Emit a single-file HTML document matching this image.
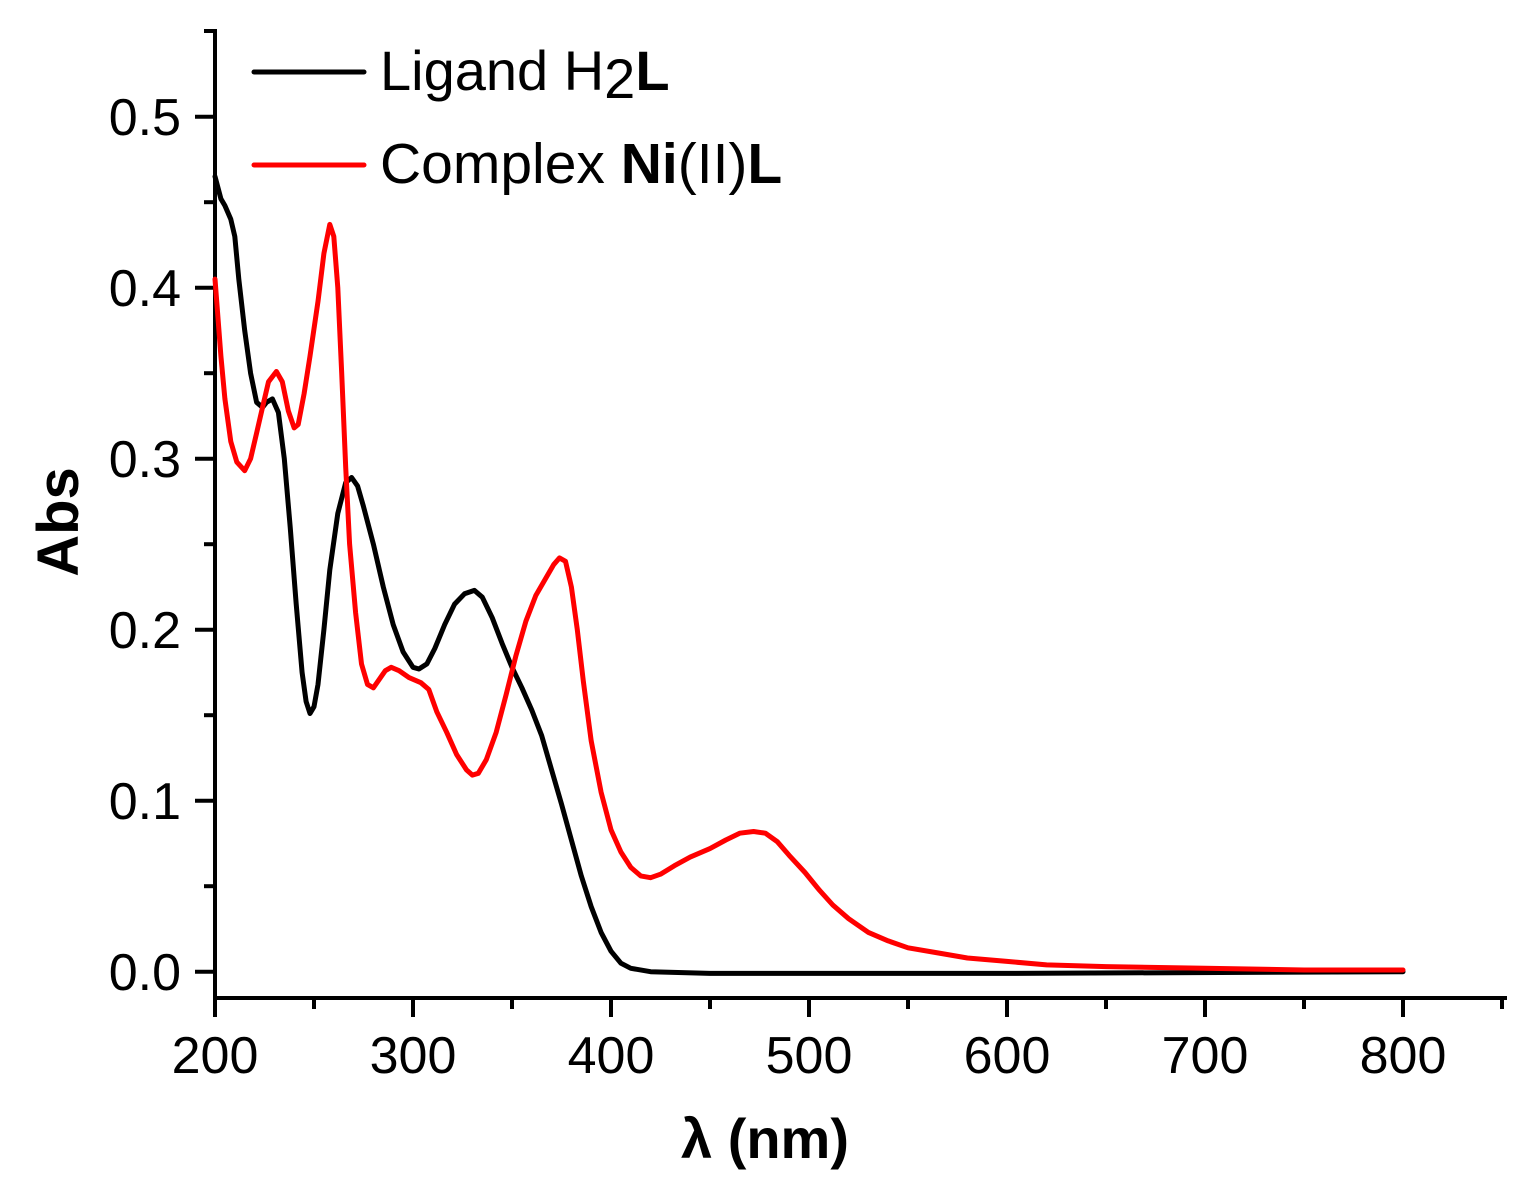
<!DOCTYPE html>
<html><head><style>body{margin:0;background:#fff}svg{display:block}text{font-family:"Liberation Sans",Arial,sans-serif;fill:#000}</style></head>
<body>
<svg id="s" width="1519" height="1199" viewBox="0 0 1519 1199" xmlns="http://www.w3.org/2000/svg">
<g stroke="#000" stroke-width="4" fill="none">
<line x1="215" y1="29" x2="215" y2="1000"/>
<line x1="213" y1="998" x2="1507" y2="998"/>
<line x1="195" y1="116.7" x2="215" y2="116.7"/>
<line x1="195" y1="287.7" x2="215" y2="287.7"/>
<line x1="195" y1="458.7" x2="215" y2="458.7"/>
<line x1="195" y1="629.7" x2="215" y2="629.7"/>
<line x1="195" y1="800.7" x2="215" y2="800.7"/>
<line x1="195" y1="971.7" x2="215" y2="971.7"/>
<line x1="204" y1="31" x2="215" y2="31"/>
<line x1="204" y1="202.2" x2="215" y2="202.2"/>
<line x1="204" y1="373.2" x2="215" y2="373.2"/>
<line x1="204" y1="544.2" x2="215" y2="544.2"/>
<line x1="204" y1="715.2" x2="215" y2="715.2"/>
<line x1="204" y1="886.2" x2="215" y2="886.2"/>
<line x1="215" y1="998" x2="215" y2="1017"/>
<line x1="413" y1="998" x2="413" y2="1017"/>
<line x1="611" y1="998" x2="611" y2="1017"/>
<line x1="809" y1="998" x2="809" y2="1017"/>
<line x1="1007" y1="998" x2="1007" y2="1017"/>
<line x1="1205" y1="998" x2="1205" y2="1017"/>
<line x1="1403" y1="998" x2="1403" y2="1017"/>
<line x1="314" y1="998" x2="314" y2="1009"/>
<line x1="512" y1="998" x2="512" y2="1009"/>
<line x1="710" y1="998" x2="710" y2="1009"/>
<line x1="908" y1="998" x2="908" y2="1009"/>
<line x1="1106" y1="998" x2="1106" y2="1009"/>
<line x1="1304" y1="998" x2="1304" y2="1009"/>
<line x1="1502" y1="998" x2="1502" y2="1009"/>
</g>
<g font-size="52" text-anchor="end">
<text x="181" y="135">0.5</text>
<text x="181" y="306">0.4</text>
<text x="181" y="477">0.3</text>
<text x="181" y="648">0.2</text>
<text x="181" y="819">0.1</text>
<text x="181" y="990">0.0</text>
</g>
<g font-size="52" text-anchor="middle">
<text x="215" y="1073">200</text>
<text x="413" y="1073">300</text>
<text x="611" y="1073">400</text>
<text x="809" y="1073">500</text>
<text x="1007" y="1073">600</text>
<text x="1205" y="1073">700</text>
<text x="1403" y="1073">800</text>
</g>
<text x="765" y="1158" font-size="56" font-weight="bold" text-anchor="middle">λ (nm)</text>
<text transform="translate(78,522) rotate(-90)" font-size="58" font-weight="bold" text-anchor="middle">Abs</text>
<g id="data" transform="translate(215,971.7) scale(1.98,-1710)" fill="none" stroke-linejoin="round" stroke-linecap="round">
<polyline vector-effect="non-scaling-stroke" stroke-width="5" stroke="#000" points="0,0.465 3,0.452 5,0.448 8,0.44 10,0.43 12,0.405 15,0.375 18,0.35 21,0.333 24,0.33 26,0.333 29,0.335 32,0.327 35,0.3 38,0.26 41,0.215 44,0.175 46,0.158 48,0.151 50,0.155 52,0.168 55,0.2 58,0.235 62,0.268 66,0.286 69,0.289 72,0.284 75,0.272 80,0.25 85,0.225 90,0.203 95,0.187 100,0.178 103,0.177 107,0.18 111,0.189 116,0.203 121,0.215 126,0.221 131,0.223 135,0.219 140,0.207 145,0.192 150,0.178 155,0.166 160,0.153 165,0.138 170,0.118 175,0.098 180,0.077 185,0.056 190,0.038 195,0.023 200,0.012 205,0.005 210,0.002 220,0.0 250,-0.001 400,-0.001 600,0"/>
<polyline vector-effect="non-scaling-stroke" stroke-width="5" stroke="#f00" points="0,0.405 3,0.36 5,0.335 8,0.31 11,0.298 15,0.293 18,0.3 21,0.315 24,0.33 27,0.345 31,0.351 34,0.345 37,0.328 40,0.318 42,0.32 45,0.338 48,0.36 52,0.392 55,0.42 58,0.437 60,0.43 62,0.4 64,0.35 66,0.295 68,0.25 71,0.21 74,0.18 77,0.168 80,0.166 83,0.171 86,0.176 89,0.178 93,0.176 98,0.172 104,0.169 108,0.165 112,0.152 117,0.14 122,0.127 127,0.118 130,0.115 133,0.116 137,0.124 142,0.14 147,0.162 152,0.185 157,0.205 162,0.22 167,0.23 171,0.238 174,0.242 177,0.24 180,0.225 183,0.2 186,0.17 190,0.135 195,0.105 200,0.083 205,0.07 210,0.061 215,0.056 220,0.055 225,0.057 232,0.062 240,0.067 250,0.072 258,0.077 265,0.081 272,0.082 278,0.081 284,0.076 290,0.068 298,0.058 305,0.048 312,0.039 320,0.031 330,0.023 340,0.018 350,0.014 365,0.011 380,0.008 400,0.006 420,0.004 450,0.003 500,0.002 550,0.001 600,0.001"/>
</g>
<line x1="254" y1="72" x2="364" y2="72" stroke="#000" stroke-width="5" stroke-linecap="round"/>
<line x1="254" y1="165" x2="364" y2="165" stroke="#f00" stroke-width="5" stroke-linecap="round"/>
<text x="380" y="90" font-size="56">Ligand H<tspan dy="8">2</tspan><tspan dy="-8" font-weight="bold">L</tspan></text>
<text x="380" y="183" font-size="57">Complex <tspan font-weight="bold">Ni</tspan>(II)<tspan font-weight="bold">L</tspan></text>
</svg>
<script>
(function(){
var g=document.getElementById('data');var svg=document.getElementById('s');
var ps=g.querySelectorAll('polyline');
for(var i=0;i<ps.length;i++){
 var p=ps[i];var pts=p.getAttribute('points').trim().split(/\s+/).map(function(s){var a=s.split(',');return (215+1.98*parseFloat(a[0])).toFixed(1)+','+(971.7-1710*parseFloat(a[1])).toFixed(1);}).join(' ');
 var n=document.createElementNS('http://www.w3.org/2000/svg','polyline');
 n.setAttribute('points',pts);n.setAttribute('fill','none');n.setAttribute('stroke',p.getAttribute('stroke'));
 n.setAttribute('stroke-width','5');n.setAttribute('stroke-linejoin','round');n.setAttribute('stroke-linecap','round');
 svg.appendChild(n);
}
g.parentNode.removeChild(g);
})();
</script>
</body></html>
